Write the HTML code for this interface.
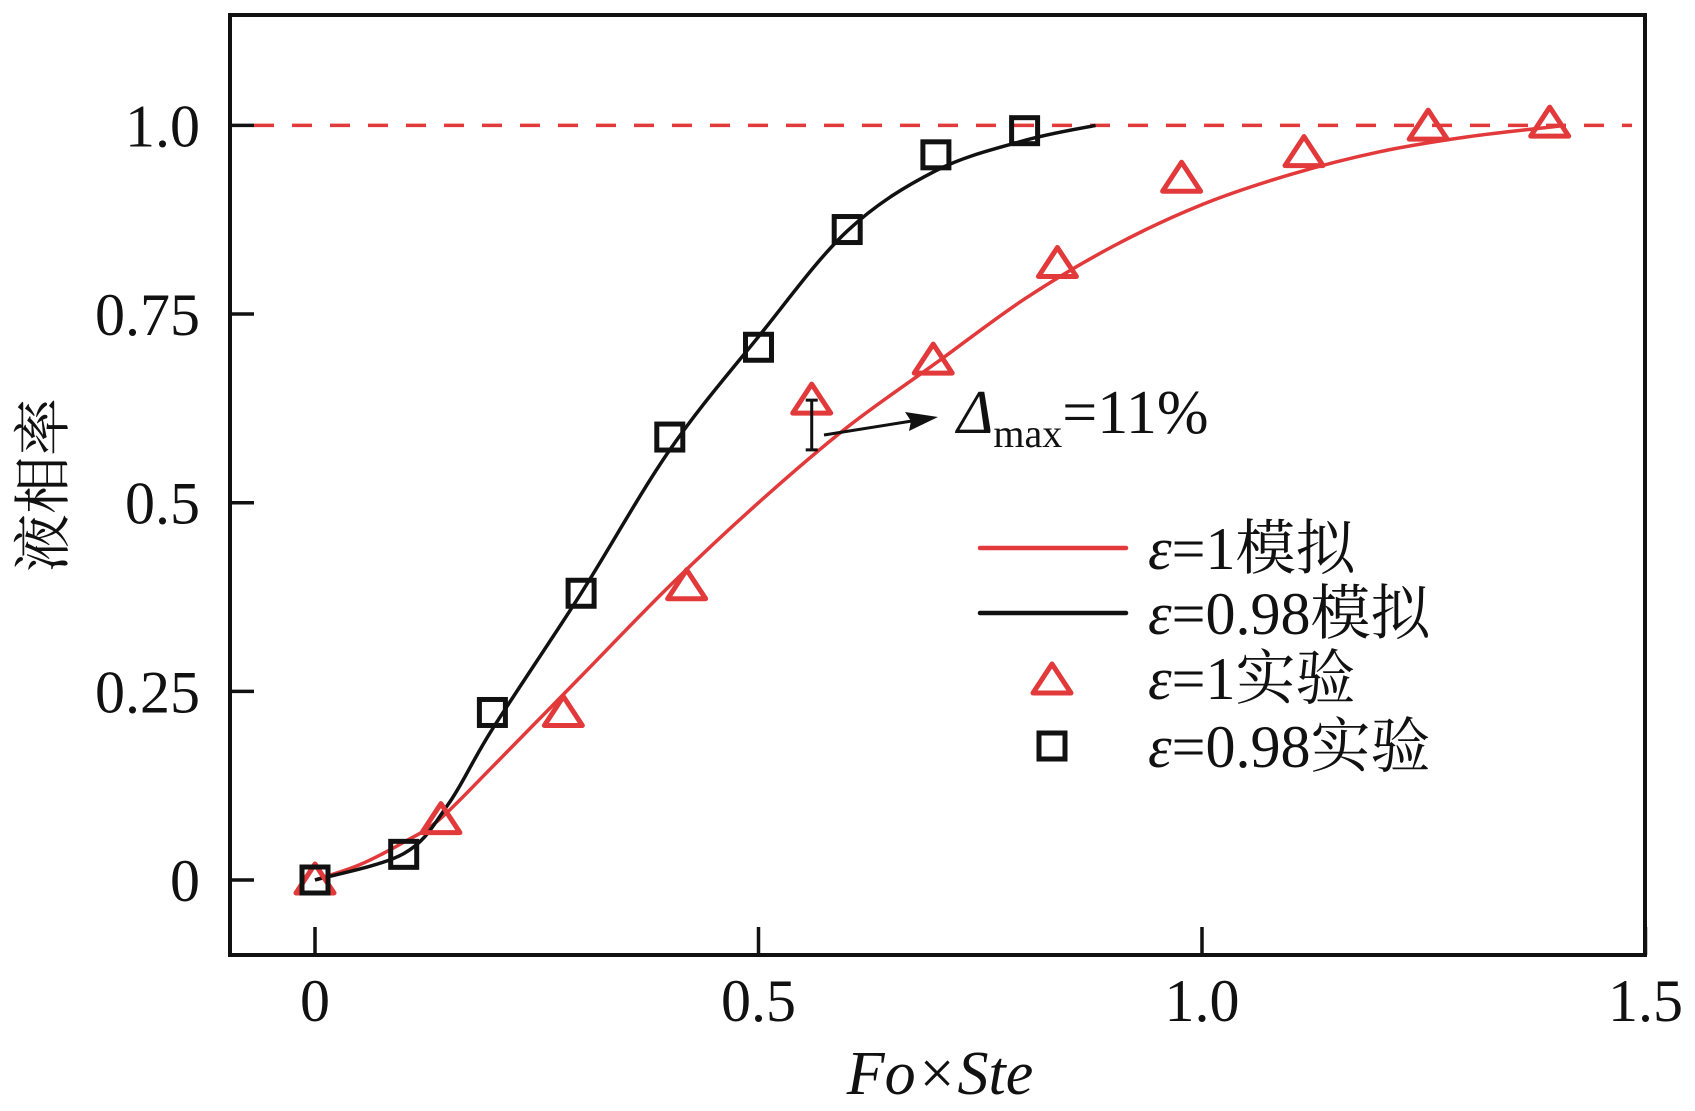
<!DOCTYPE html>
<html><head><meta charset="utf-8"><style>
html,body{margin:0;padding:0;background:#fff;}
svg{display:block;font-family:"Liberation Serif","Noto Serif CJK SC",serif;}
</style></head><body>
<svg id="chart" width="1695" height="1111" viewBox="0 0 1695 1111">
<g id="plot"></g>
</svg>
<script>
const xTicks=[0,0.5,1.0,1.5];
const xTickLabels=["0","0.5","1.0","1.5"];
const yTicks=[0,0.25,0.5,0.75,1.0];
const yTickLabels=["0","0.25","0.5","0.75","1.0"];
const simRedX=[0,0.05,0.1,0.14,0.2,0.3,0.4,0.5,0.6,0.7,0.8,0.9,1.0,1.1,1.2,1.3,1.41];
const simRedY=[0,0.02,0.05,0.08,0.15,0.27,0.39,0.5,0.6,0.685,0.77,0.84,0.895,0.935,0.965,0.985,1.0];
const simBlackX=[0,0.1,0.15,0.2,0.3,0.4,0.5,0.6,0.7,0.8,0.88];
const simBlackY=[0,0.035,0.1,0.2,0.38,0.57,0.72,0.86,0.94,0.98,1.0];
const expRedX=[0,0.142,0.28,0.419,0.56,0.697,0.837,0.977,1.115,1.255,1.392];
const expRedY=[0,0.08,0.222,0.39,0.636,0.689,0.817,0.93,0.964,0.999,1.003];
const expBlackX=[0,0.1,0.2,0.3,0.4,0.5,0.6,0.7,0.8];
const expBlackY=[0,0.034,0.222,0.38,0.587,0.706,0.862,0.961,0.993];
const errX=0.56, errLo=0.57, errHi=0.636;

const RED="#e2393b";
const X=v=>315+v*887;
const Y=v=>880-v*754.6;
const NS="http://www.w3.org/2000/svg";
const g=document.getElementById('plot');
function mk(tag,attrs,txt){const e=document.createElementNS(NS,tag);for(const k in attrs)e.setAttribute(k,attrs[k]);if(txt!==undefined)e.textContent=txt;g.appendChild(e);return e;}
function smooth(xs,ys){
  const p=xs.map((x,i)=>[X(x),Y(ys[i])]);
  let d=`M${p[0][0]},${p[0][1]}`;
  for(let i=0;i<p.length-1;i++){
    const p0=p[i-1]||p[i],p1=p[i],p2=p[i+1],p3=p[i+2]||p[i+1];
    const c1=[p1[0]+(p2[0]-p0[0])/6,p1[1]+(p2[1]-p0[1])/6];
    const c2=[p2[0]-(p3[0]-p1[0])/6,p2[1]-(p3[1]-p1[1])/6];
    d+=` C${c1[0]},${c1[1]} ${c2[0]},${c2[1]} ${p2[0]},${p2[1]}`;
  }
  return d;
}
let e=mk('line',{x1:254,x2:1632,y1:Y(1),y2:Y(1),stroke:RED,'stroke-width':3.5,'stroke-dasharray':'20 18'});


e=mk('rect',{x:230,y:15,width:1415,height:940,fill:'none',stroke:'#111','stroke-width':4});


xTicks.forEach((t,i)=>{
  const l=mk('line',{x1:X(t),x2:X(t),y1:955,y2:927,stroke:'#111','stroke-width':3.5});
  
  
  const tx=mk('text',{x:X(t),y:1021,'font-size':60,'text-anchor':'middle',fill:'#111'},xTickLabels[i]);
  
  
});
yTicks.forEach((t,i)=>{
  const l=mk('line',{x1:230,x2:254,y1:Y(t),y2:Y(t),stroke:'#111','stroke-width':3.5});
  
  
  const tx=mk('text',{x:200,y:Y(t)+21,'font-size':60,'text-anchor':'end',fill:'#111'},yTickLabels[i]);
  
  
});
e=mk('text',{x:940,y:1094,'font-size':62,'font-style':'italic','text-anchor':'middle',fill:'#111'},'Fo×Ste');


e=mk('text',{x:0,y:0,'font-size':58,'text-anchor':'middle',fill:'#111',transform:'translate(63,485) rotate(-90)','font-family':'"Noto Serif CJK SC",serif'},'液相率');


e=mk('path',{d:smooth(simRedX,simRedY),fill:'none',stroke:RED,'stroke-width':3.5});


e=mk('path',{d:smooth(simBlackX,simBlackY),fill:'none',stroke:'#111','stroke-width':3.5});


function tri(cx,cy){return mk('path',{d:`M${cx},${cy-16} L${cx+19},${cy+13} L${cx-19},${cy+13} Z`,fill:'none',stroke:RED,'stroke-width':5,'stroke-linejoin':'round'});}
function sq(cx,cy){return mk('rect',{x:cx-13,y:cy-13,width:26,height:26,fill:'none',stroke:'#111','stroke-width':5});}
expRedX.forEach((x,i)=>{const t=tri(X(x),Y(expRedY[i]));
  
  });
expBlackX.forEach((x,i)=>{const s=sq(X(x),Y(expBlackY[i]));
  
  });
e=mk('path',{d:`M${X(errX)},${Y(errHi)} V${Y(errLo)} M${X(errX)-6},${Y(errHi)} h12 M${X(errX)-6},${Y(errLo)} h12`,stroke:'#111','stroke-width':3,fill:'none'});


e=mk('path',{d:'M824,435 L912,421',stroke:'#111','stroke-width':3,fill:'none'});


e=mk('path',{d:'M938,417 L905,412 L911,421 L909,431 Z',fill:'#111'});


e=mk('text',{x:957,y:433,'font-size':62,fill:'#111'});
e.innerHTML='<tspan font-style="italic">Δ</tspan><tspan font-size="40" dy="14">max</tspan><tspan dy="-14">=11%</tspan>';


const lg=[['line',RED,'=1模拟',548],['line','#111','=0.98模拟',613],['tri',RED,'=1实验',678],['sq','#111','=0.98实验',746]];
lg.forEach(r=>{
  let m;
  if(r[0]==='line'){m=mk('line',{x1:980,x2:1126,y1:r[3],y2:r[3],stroke:r[1],'stroke-width':4.5,'stroke-linecap':'round'});}
  else if(r[0]==='tri'){m=tri(1052,r[3]+2);}
  else {m=sq(1052,r[3]);}
  
  
  const t=mk('text',{x:1148,y:r[3]+21,'font-size':60,fill:'#111'});
  t.innerHTML='<tspan font-style="italic">ε</tspan>'+r[2];
  
  
});
</script>
</body></html>
